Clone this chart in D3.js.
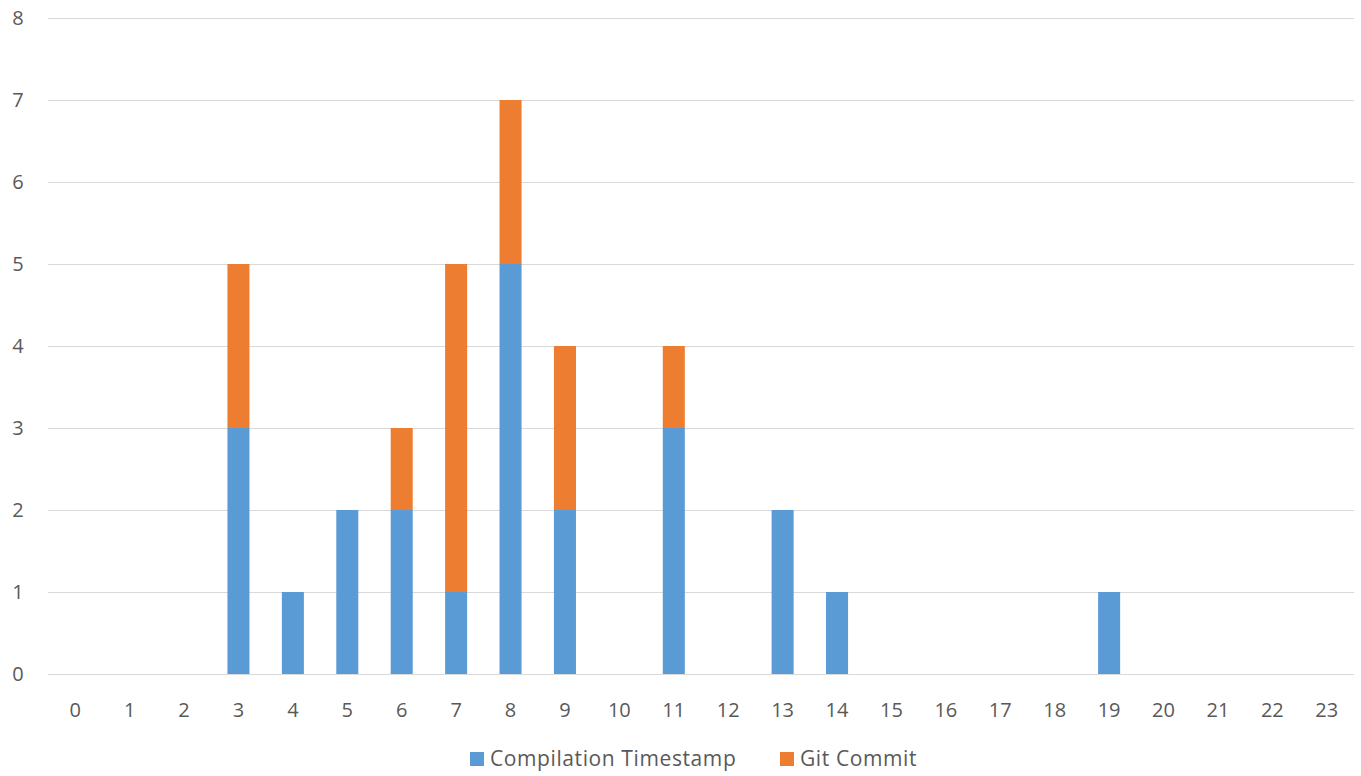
<!DOCTYPE html>
<html><head><meta charset="utf-8">
<script src="https://cdn.jsdelivr.net/npm/d3@7"></script>
<style>body{margin:0;background:#fff}svg{display:block}</style>
</head><body>
<svg id="c" width="1361" height="776"></svg>
<script>
const categories = ["0","1","2","3","4","5","6","7","8","9","10","11","12","13","14","15","16","17","18","19","20","21","22","23"];
const compilation = [0,0,0,3,1,2,2,1,5,2,0,3,0,2,1,0,0,0,0,1,0,0,0,0];
const gitCommit   = [0,0,0,2,0,0,1,4,2,2,0,1,0,0,0,0,0,0,0,0,0,0,0,0];
const seriesNames = ["Compilation Timestamp","Git Commit"];
const colors = ["#5b9bd5","#ed7d31"];
const yTicks = [0,1,2,3,4,5,6,7,8];

(function(){
const svg = d3.select("#c");
const mLeft = 48, mRight = 1354, mTop = 18, mBottom = 674;
const font = "'Open Sans', sans-serif";

const x = d3.scaleBand().domain(categories).range([mLeft, mRight]).paddingInner(0.595).paddingOuter(0.2975);
const y = d3.scaleLinear().domain([0, 8]).range([mBottom, mTop]);

svg.append("g").selectAll("line").data(yTicks).join("line")
  .attr("x1", mLeft).attr("x2", mRight)
  .attr("y1", d => Math.round(y(d)) + 0.5).attr("y2", d => Math.round(y(d)) + 0.5)
  .attr("stroke", "#d9d9d9").attr("stroke-width", 1);

svg.append("g").selectAll("text").data(yTicks).join("text")
  .attr("x", 18).attr("y", d => y(d)).attr("dy", "0.35em")
  .attr("text-anchor", "middle").attr("font-family", font).attr("font-size", 20)
  .attr("fill", "#595959").text(d => d);

svg.append("g").selectAll("text").data(categories).join("text")
  .attr("x", d => x(d) + x.bandwidth() / 2).attr("y", 710).attr("dy", "0.35em")
  .attr("text-anchor", "middle").attr("font-family", font).attr("font-size", 20)
  .attr("fill", "#595959").text(d => d);

const table = categories.map((c, i) => ({cat: c, a: compilation[i], b: gitCommit[i]}));
const stack = d3.stack().keys(["a", "b"])(table);
svg.append("g").selectAll("g").data(stack).join("g")
  .attr("fill", (d, i) => colors[i])
  .selectAll("rect").data(d => d.filter(p => p[1] > p[0])).join("rect")
  .attr("x", d => x(d.data.cat)).attr("width", x.bandwidth())
  .attr("y", d => y(d[1])).attr("height", d => y(d[0]) - y(d[1]));

const lg = svg.append("g").attr("font-family", font).attr("font-size", 21)
  .attr("letter-spacing", 0.6).attr("fill", "#595959");
const legendX = [470, 780];
seriesNames.forEach((n, i) => {
  lg.append("rect").attr("x", legendX[i]).attr("y", 752).attr("width", 14).attr("height", 14).attr("fill", colors[i]);
  lg.append("text").attr("x", legendX[i] + 20).attr("y", 759).attr("dy", "0.35em").text(n);
});
})();
</script>
</body></html>
